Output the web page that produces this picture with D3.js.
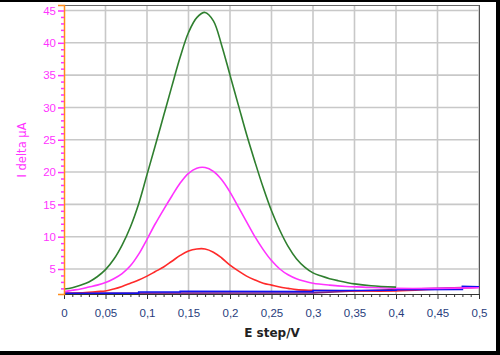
<!DOCTYPE html>
<html>
<head>
<meta charset="utf-8">
<script src="https://cdn.jsdelivr.net/npm/d3@7"></script>
<style>
  body { margin: 0; background: #fff; }
  svg { display: block; }
</style>
</head>
<body>
<div id="chart"></div>
<script>
// E step in V, shared by the peak curves
const eGreen = [0, 0.01, 0.02, 0.03, 0.04, 0.05, 0.06, 0.07, 0.08, 0.09, 0.10, 0.11, 0.12, 0.13, 0.14, 0.15, 0.16, 0.17, 0.18, 0.19, 0.20, 0.21, 0.22, 0.23, 0.24, 0.25, 0.26, 0.27, 0.28, 0.29, 0.30, 0.31, 0.32, 0.33, 0.35, 0.37, 0.40]
const iGreen = [1.9, 2.1, 2.5, 3.0, 3.8, 4.9, 6.5, 8.7, 11.5, 15.1, 19.6, 24.1, 28.7, 33.3, 37.8, 41.6, 43.9, 44.7, 43.4, 39.6, 35.0, 30.4, 25.8, 21.6, 17.6, 14.0, 11.0, 8.5, 6.6, 5.3, 4.4, 3.9, 3.5, 3.2, 2.7, 2.4, 2.2]

const eMagenta = [0, 0.01, 0.02, 0.03, 0.04, 0.05, 0.06, 0.07, 0.08, 0.09, 0.10, 0.11, 0.12, 0.13, 0.14, 0.15, 0.16, 0.17, 0.18, 0.19, 0.20, 0.21, 0.22, 0.23, 0.24, 0.25, 0.26, 0.27, 0.28, 0.29, 0.30, 0.32, 0.34, 0.36, 0.40, 0.45, 0.50]
const iMagenta = [1.5, 1.7, 1.9, 2.2, 2.5, 2.9, 3.5, 4.3, 5.5, 7.3, 9.6, 12.0, 14.2, 16.3, 18.3, 19.8, 20.6, 20.7, 20.1, 18.8, 16.9, 14.6, 12.3, 10.0, 8.0, 6.3, 5.0, 4.1, 3.5, 3.1, 2.8, 2.5, 2.3, 2.2, 2.0, 2.0, 2.1]

const eRed = [0, 0.02, 0.04, 0.05, 0.06, 0.07, 0.08, 0.09, 0.10, 0.11, 0.12, 0.13, 0.14, 0.15, 0.16, 0.17, 0.18, 0.19, 0.20, 0.21, 0.22, 0.23, 0.24, 0.25, 0.26, 0.27, 0.28, 0.30, 0.35, 0.40, 0.45, 0.50]
const iRed = [1.2, 1.3, 1.5, 1.6, 1.9, 2.3, 2.8, 3.3, 3.9, 4.6, 5.3, 6.2, 7.1, 7.8, 8.1, 8.1, 7.6, 6.7, 5.6, 4.7, 3.9, 3.3, 2.8, 2.5, 2.2, 2.0, 1.8, 1.7, 1.6, 1.6, 1.9, 2.2]

// flat baselines, drawn as steps
const eBlue = [0, 0.09, 0.09, 0.14, 0.14, 0.30, 0.30, 0.40, 0.40, 0.48, 0.48, 0.50]
const iBlue = [1.25, 1.25, 1.45, 1.45, 1.55, 1.5, 1.65, 1.7, 1.8, 1.85, 2.3, 2.25]

const ePurple = [0, 0.30, 0.35, 0.40, 0.45, 0.50]
const iPurple = [1.25, 1.3, 1.6, 1.8, 2.0, 2.2]

const xTicks = ["0", "0,05", "0,1", "0,15", "0,2", "0,25", "0,3", "0,35", "0,4", "0,45", "0,5"]
const yTicks = [5, 10, 15, 20, 25, 30, 35, 40, 45]

const W = 500, H = 355
const plot = {left: 64, right: 479, top: 5, bottom: 294}

const svg = d3.select("#chart").append("svg")
  .attr("width", W).attr("height", H)
  .style("font-family", "'DejaVu Sans', sans-serif")

const x = d3.scaleLinear().domain([0, 0.5]).range([plot.left, plot.right])
const y = d3.scaleLinear().domain([1.13, 45.85]).range([plot.bottom, plot.top])

// grid
const grid = svg.append("g").attr("stroke", "#c8c8c8").attr("stroke-width", 1.6)
grid.selectAll(".gx").data(xTicks.map((t, i) => i * 0.05).slice(1))
  .join("line")
  .attr("x1", d => x(d)).attr("x2", d => x(d))
  .attr("y1", plot.top).attr("y2", plot.bottom)
grid.selectAll(".gy").data(yTicks)
  .join("line")
  .attr("x1", plot.left).attr("x2", plot.right)
  .attr("y1", d => y(d)).attr("y2", d => y(d))

// frame of the plot
svg.append("line").attr("x1", plot.left).attr("x2", plot.right)
  .attr("y1", plot.top + 0.5).attr("y2", plot.top + 0.5).attr("stroke", "#666")
svg.append("line").attr("x1", plot.right + 0.5).attr("x2", plot.right + 0.5)
  .attr("y1", plot.top).attr("y2", plot.bottom).attr("stroke", "#555")

// curves
const series = [
  {e: ePurple, i: iPurple, color: "#80207f", curve: d3.curveLinear},
  {e: eRed, i: iRed, color: "#ff2a2a", curve: d3.curveCatmullRom},
  {e: eBlue, i: iBlue, color: "#1010f0", curve: d3.curveLinear},
  {e: eMagenta, i: iMagenta, color: "#ff33ff", curve: d3.curveCatmullRom},
  {e: eGreen, i: iGreen, color: "#2f7f2f", curve: d3.curveCatmullRom}
]
series.forEach(s => {
  const line = d3.line().x(d => x(d[0])).y(d => y(d[1])).curve(s.curve)
  svg.append("path")
    .datum(d3.zip(s.e, s.i))
    .attr("d", line)
    .attr("fill", "none")
    .attr("stroke", s.color)
    .attr("stroke-width", 1.6)
})

// x axis
const xAxis = svg.append("g").attr("transform", `translate(0,${plot.bottom})`)
  .call(d3.axisBottom(x).tickValues(xTicks.map((t, i) => i * 0.05))
    .tickFormat((d, i) => xTicks[i]).tickSize(5).tickPadding(10))
xAxis.select(".domain").attr("stroke", "#333")
xAxis.selectAll(".tick line").attr("stroke", "#333")
xAxis.selectAll("text").attr("fill", "#283c7c").style("font-size", "11.5px")
svg.append("g").attr("transform", `translate(0,${plot.bottom})`)
  .call(d3.axisBottom(x).tickValues(d3.range(1, 50).filter(k => k % 5).map(k => k / 100))
    .tickFormat("").tickSize(3))
  .call(g => g.select(".domain").remove())
  .selectAll(".tick line").attr("stroke", "#333")

// y axis
const yAxis = svg.append("g").attr("transform", `translate(${plot.left},0)`)
  .call(d3.axisLeft(y).tickValues(yTicks).tickSize(6).tickPadding(2))
yAxis.select(".domain").attr("stroke", "#ff8c1a").attr("stroke-width", 1.5)
yAxis.selectAll(".tick line").attr("stroke", "#ff33ff").attr("stroke-width", 1.5)
yAxis.selectAll("text").attr("fill", "#ff33ff").style("font-size", "11.5px")
svg.append("g").attr("transform", `translate(${plot.left},0)`)
  .call(d3.axisLeft(y).tickValues(d3.range(2, 46).filter(k => k % 5)).tickFormat("").tickSize(3))
  .call(g => g.select(".domain").remove())
  .selectAll(".tick line").attr("stroke", "#ff33ff").attr("stroke-width", 1.5)

// axis titles
svg.append("text")
  .attr("transform", "translate(26,150) rotate(-90)")
  .attr("text-anchor", "middle")
  .attr("fill", "#ff33ff")
  .style("font-size", "11.5px")
  .text("I delta µA")
svg.append("text")
  .attr("x", 272).attr("y", 337)
  .attr("text-anchor", "middle")
  .attr("fill", "#222")
  .style("font-size", "12px")
  .style("font-weight", "bold")
  .text("E step/V")

// window border
svg.append("rect").attr("x", 0).attr("y", 0).attr("width", W).attr("height", 2).attr("fill", "#000")
svg.append("rect").attr("x", 496).attr("y", 0).attr("width", 4).attr("height", H).attr("fill", "#000")
svg.append("rect").attr("x", 0).attr("y", 351).attr("width", W).attr("height", 4).attr("fill", "#000")
</script>
</body>
</html>
